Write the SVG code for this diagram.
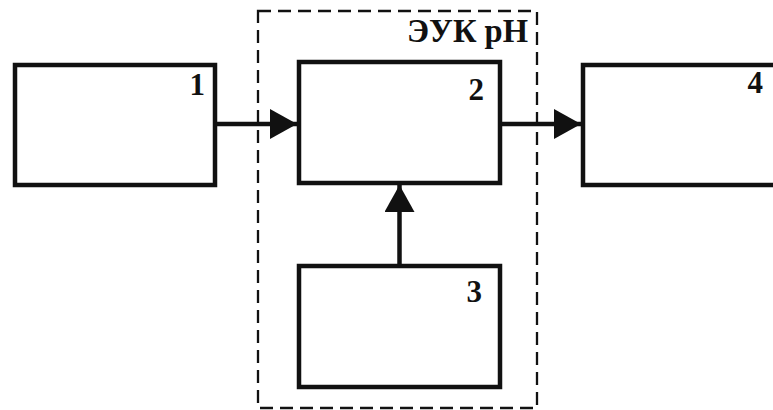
<svg xmlns="http://www.w3.org/2000/svg" width="773" height="410" viewBox="0 0 773 410">
  <style>
    .blk { fill: #ffffff; stroke: #111111; stroke-width: 4.5; }
    .num { font-family: "Liberation Serif", "Times New Roman", serif; font-weight: bold; font-size: 31px; fill: #111111; text-anchor: end; }
    .frame { fill: none; stroke: #111111; stroke-width: 2.3; stroke-dasharray: 13 7; }
    .wire { fill: none; stroke: #111111; stroke-width: 4.5; }
    .cap { font-family: "Liberation Serif", "Times New Roman", serif; font-weight: bold; font-size: 33px; fill: #111111; }
  </style>
  <defs>
    <marker id="arrow" viewBox="0 0 27 30" refX="27" refY="15" markerWidth="27" markerHeight="30" markerUnits="userSpaceOnUse" orient="auto">
      <path d="M0,0 L27,15 L0,30 Z" fill="#111111"/>
    </marker>
  </defs>
  <rect width="773" height="410" fill="#ffffff"/>

  <!-- dashed unit boundary -->
  <g id="unit">
    <rect class="frame" x="258" y="11" width="279" height="397"/>
    <text class="cap" x="407" y="42" textLength="121" lengthAdjust="spacingAndGlyphs">ЭУК pH</text>
  </g>

  <g id="node1">
    <rect class="blk" x="15" y="65" width="200" height="120"/>
    <text class="num" x="205" y="95">1</text>
  </g>
  <g id="node2">
    <rect class="blk" x="299" y="62" width="201" height="121"/>
    <text class="num" x="484" y="100">2</text>
  </g>
  <g id="node3">
    <rect class="blk" x="299" y="266" width="201" height="121"/>
    <text class="num" x="482" y="302">3</text>
  </g>
  <g id="node4">
    <rect class="blk" x="583" y="65" width="200" height="120"/>
    <text class="num" x="763" y="93">4</text>
  </g>

  <g id="connectors">
    <line class="wire" x1="217" y1="124" x2="297" y2="124" marker-end="url(#arrow)"/>
    <line class="wire" x1="502" y1="124" x2="581" y2="124" marker-end="url(#arrow)"/>
    <line class="wire" x1="399.5" y1="264" x2="399.5" y2="185" marker-end="url(#arrow)"/>
  </g>
</svg>
